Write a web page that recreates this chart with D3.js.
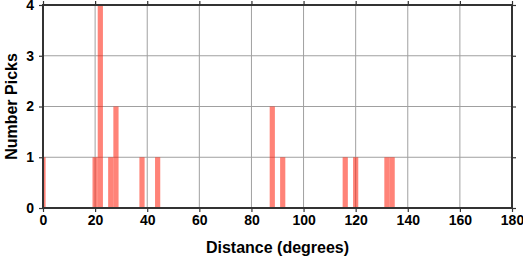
<!doctype html>
<html lang="en">
  <head>
    <meta charset="utf-8">
    <title>Number Picks vs Distance</title>
    <style>
      body{margin:0;background:#fff;}
      text{font-family:"Liberation Sans", Arial, sans-serif;font-weight:bold;fill:#000;}
    </style>
  </head>
  <body>
    <script src="https://cdn.jsdelivr.net/npm/d3@7"></script>
    <script>

      // bin centres (degrees) and counts, 2 degree bins
      var binCenters = [0, 20, 22, 26, 28, 38, 44, 88, 92, 116, 120, 132, 134];
      var counts     = [1, 1, 4, 1, 2, 1, 1, 2, 1, 1, 1, 1, 1];
      var binWidth = 2;

      var xTicks = [0, 20, 40, 60, 80, 100, 120, 140, 160, 180];
      var yTicks = [0, 1, 2, 3, 4];

      var margin = {top: 5, right: 11, bottom: 50, left: 43},
          width  = 523 - margin.left - margin.right,
          height = 258 - margin.top - margin.bottom;

      var svg = d3.select("body")
        .append("svg")
        .attr("width", 523)
        .attr("height", 258);

      var chart = svg.append("g")
        .attr("transform", "translate(" + margin.left + "," + margin.top + ")");

      var x = d3.scaleLinear().domain([0, 180]).range([0, width]);
      var y = d3.scaleLinear().domain([0, 4]).range([height, 0]);

      // grid
      chart.selectAll(".vgrid").data(xTicks).enter().append("line")
        .attr("x1", function(d){ return x(d); })
        .attr("x2", function(d){ return x(d); })
        .attr("y1", 0).attr("y2", height)
        .attr("stroke", "#a0a0a0").attr("stroke-width", 1);
      chart.selectAll(".hgrid").data(yTicks).enter().append("line")
        .attr("y1", function(d){ return y(d); })
        .attr("y2", function(d){ return y(d); })
        .attr("x1", 0).attr("x2", width)
        .attr("stroke", "#a0a0a0").attr("stroke-width", 1);

      var data = binCenters.map(function(c, i){ return {c: c, n: counts[i]}; });

      chart.append("g")
        .attr("clip-path", "url(#clip)")
        .selectAll(".bar").data(data).enter().append("rect")
        .attr("x", function(d){ return x(d.c - binWidth/2); })
        .attr("width", function(d){ return x(binWidth) - x(0); })
        .attr("y", function(d){ return y(d.n); })
        .attr("height", function(d){ return height - y(d.n); })
        .attr("fill", "#ff1e0a")
        .attr("fill-opacity", 0.55);

      svg.append("clipPath").attr("id", "clip")
        .append("rect").attr("x", 0).attr("y", -2).attr("width", width).attr("height", height + 2);

      // axes with outward ticks on all sides
      function styleAxis(g){
        g.select(".domain").remove();
        g.selectAll(".tick line").attr("stroke", "#333").attr("stroke-width", 1.2);
        g.selectAll(".tick text")
          .style("font-family", "'Liberation Sans', Arial, sans-serif")
          .style("font-weight", "bold")
          .style("font-size", "14px")
          .attr("fill", "#000");
      }

      chart.append("g")
        .attr("transform", "translate(0," + height + ")")
        .call(d3.axisBottom(x).tickValues(xTicks).tickSize(4).tickPadding(3).tickFormat(d3.format("d")))
        .call(styleAxis);

      chart.append("g")
        .call(d3.axisLeft(y).tickValues(yTicks).tickSize(4).tickPadding(5).tickFormat(d3.format("d")))
        .call(styleAxis);

      chart.append("g")
        .call(d3.axisTop(x).tickValues(xTicks).tickSize(4).tickFormat(""))
        .call(styleAxis);

      chart.append("g")
        .attr("transform", "translate(" + width + ",0)")
        .call(d3.axisRight(y).tickValues(yTicks).tickSize(4).tickFormat(""))
        .call(styleAxis);

      // frame
      chart.append("rect")
        .attr("x", 0).attr("y", 0)
        .attr("width", width).attr("height", height)
        .attr("fill", "none")
        .attr("stroke", "#333")
        .attr("stroke-width", 2);

      // titles
      svg.append("text")
        .attr("x", margin.left + width/2)
        .attr("y", 253)
        .attr("text-anchor", "middle")
        .style("font-size", "16px")
        .text("Distance (degrees)");

      svg.append("text")
        .attr("transform", "translate(17," + (margin.top + height/2) + ") rotate(-90)")
        .attr("text-anchor", "middle")
        .style("font-size", "16px")
        .text("Number Picks");

    </script>
  </body>
</html>
